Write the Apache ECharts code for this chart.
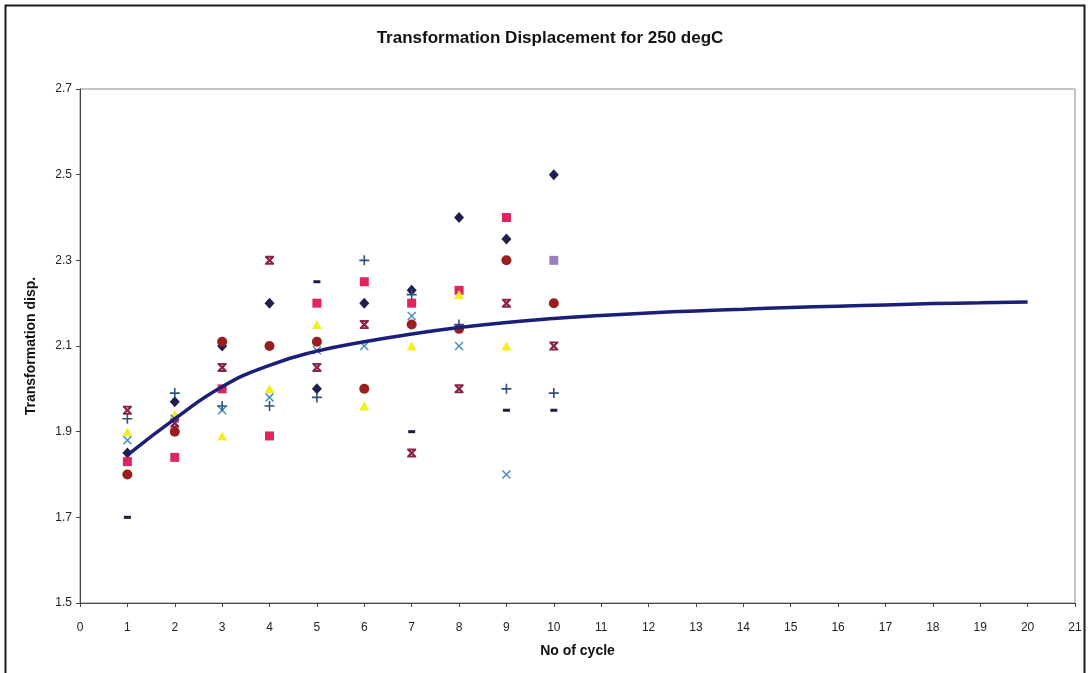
<!DOCTYPE html>
<html>
<head>
<meta charset="utf-8">
<title>Transformation Displacement for 250 degC</title>
<script src="https://cdn.jsdelivr.net/npm/echarts@6/dist/echarts.min.js"></script>
<style>
  html, body { margin: 0; padding: 0; background: #ffffff; }
  #chart { width: 1089px; height: 673px; }
</style>
</head>
<body>
<div id="chart"></div>
<script>
// Cycle numbers for the measured specimens
const cycles = [1, 2, 3, 4, 5, 6, 7, 8, 9, 10];

// Measured transformation displacement per specimen (null = no reading)
const diamondVals  = [1.85, 1.97, 2.10, 2.20, 2.00, 2.20, 2.23, 2.40, 2.35, 2.50];
const squareVals   = [1.83, 1.84, 2.00, 1.89, 2.20, 2.25, 2.20, 2.23, 2.40, null];
const triangleVals = [1.90, 1.94, 1.89, 2.00, 2.15, 1.96, 2.10, 2.22, 2.10, null];
const crossVals    = [1.88, 1.93, 1.95, 1.98, 2.09, 2.10, 2.17, 2.10, 1.80, null];
const starVals     = [1.95, 1.92, 2.05, 2.30, 2.05, 2.15, 1.85, 2.00, 2.20, 2.10];
const circleVals   = [1.80, 1.90, 2.11, 2.10, 2.11, 2.00, 2.15, 2.14, 2.30, 2.20];
const plusVals     = [1.93, 1.99, 1.96, 1.96, 1.98, 2.30, 2.22, 2.15, 2.00, 1.99];
const dashVals     = [1.70, null, null, null, 2.25, null, 1.90, null, 1.95, 1.95];
const lastSquareVals = [null, null, null, null, null, null, null, null, null, 2.30];

// Fitted trend curve
const trendCycles = [1, 2, 3, 4, 5, 6, 7, 8, 9, 10, 11, 12, 13, 14, 15, 16, 17, 18, 19, 20];
const trendVals = [1.845, 1.93, 2.005, 2.055, 2.088, 2.11, 2.128, 2.143, 2.155, 2.164,
                   2.171, 2.177, 2.182, 2.186, 2.190, 2.193, 2.196, 2.199, 2.201, 2.203];

// Axis tick labels
const yTickLabels = ['1.5', '1.7', '1.9', '2.1', '2.3', '2.5', '2.7'];

const pairs = (xs, ys) => xs.map((x, i) => [x, ys[i]]).filter(p => p[1] !== null);

// Marker outlines (Excel style)
const X_PATH = 'path://M0,1.2L1.2,0L5,3.8L8.8,0L10,1.2L6.2,5L10,8.8L8.8,10L5,6.2L1.2,10L0,8.8L3.8,5Z';
const STAR_PATH = 'path://M0,0L10,0L10,2L0,2Z M0,8L10,8L10,10L0,10Z ' +
                  'M0,1.8L1.8,0L5,3.2L8.2,0L10,1.8L6.8,5L10,8.2L8.2,10L5,6.8L1.8,10L0,8.2L3.2,5Z';
const PLUS_PATH = 'path://M4.2,0L5.8,0L5.8,4.2L10,4.2L10,5.8L5.8,5.8L5.8,10L4.2,10L4.2,5.8L0,5.8L0,4.2L4.2,4.2Z';
const DASH_PATH = 'path://M0,0L10,0L10,10L0,10Z';

const FONT = 'Liberation Sans, Arial, sans-serif';

function scatter(name, vals, symbol, size, color) {
  return {
    name, type: 'scatter', yAxisIndex: 0,
    symbol, symbolSize: size,
    itemStyle: { color, opacity: 1 },
    data: pairs(cycles, vals),
    z: 3
  };
}

const chart = echarts.init(document.getElementById('chart'), null, { renderer: 'canvas' });

chart.setOption({
  animation: false,
  backgroundColor: '#ffffff',
  title: {
    text: 'Transformation Displacement for 250 degC',
    left: 545, top: 25, textAlign: 'center',
    textStyle: { fontFamily: FONT, fontSize: 17, fontWeight: 'bold', color: '#111' }
  },
  graphic: [{
    type: 'rect', silent: true, z: 0,
    shape: { x: 5.5, y: 5.5, width: 1079, height: 680 },
    style: { fill: 'none', stroke: '#1a1a1a', lineWidth: 2 }
  }],
  grid: {
    left: 80, right: 14, top: 89, bottom: 70,
    show: true, borderColor: '#8a8a8a', borderWidth: 1, backgroundColor: 'transparent'
  },
  xAxis: {
    type: 'value', min: 0, max: 21, interval: 1,
    name: 'No of cycle', nameLocation: 'middle', nameGap: 41,
    nameTextStyle: { fontFamily: FONT, fontSize: 14, fontWeight: 'bold', color: '#111' },
    axisLine: { show: true, onZero: false, lineStyle: { color: '#444', width: 1 } },
    axisTick: { show: true, inside: false, length: 4, lineStyle: { color: '#444' } },
    axisLabel: { fontFamily: FONT, fontSize: 12, color: '#222', margin: 19 },
    splitLine: { show: false }
  },
  yAxis: [{
    // value scale used by the data
    type: 'value', min: 1.5, max: 2.7, position: 'left',
    axisLine: { show: true, onZero: false, lineStyle: { color: '#444', width: 1 } },
    axisTick: { show: false }, axisLabel: { show: false }, splitLine: { show: false }
  }, {
    // tick marks and labels every 0.2 starting at 1.5
    type: 'value', min: 0, max: 1.2, interval: 0.2, position: 'left',
    name: 'Transformation disp.', nameLocation: 'middle', nameGap: 42, nameRotate: 90,
    nameTextStyle: { fontFamily: FONT, fontSize: 14, fontWeight: 'bold', color: '#111' },
    axisLine: { show: false },
    axisTick: { show: true, inside: false, length: 4, lineStyle: { color: '#444' } },
    axisLabel: {
      fontFamily: FONT, fontSize: 12, color: '#222', margin: 8,
      formatter: (v, i) => yTickLabels[i]
    },
    splitLine: { show: false }
  }],
  series: [
    scatter('Series1', diamondVals, 'diamond', [10, 11], '#1f1f4f'),
    scatter('Series2', squareVals, 'rect', 9, '#e0245c'),
    scatter('Series3', triangleVals, 'triangle', [10, 9], '#f2ee22'),
    scatter('Series4', crossVals, X_PATH, 9, '#4a8cc4'),
    scatter('Series5', starVals, STAR_PATH, 9, '#8a2446'),
    scatter('Series6', circleVals, 'circle', 10, '#9a1e1e'),
    scatter('Series7', plusVals, PLUS_PATH, 10, '#2f4f7f'),
    scatter('Series8', dashVals, DASH_PATH, [7, 3], '#1c1c3c'),
    scatter('Series9', lastSquareVals, 'rect', 9, '#9c80bc'),
    {
      name: 'Trend', type: 'line', yAxisIndex: 0,
      data: pairs(trendCycles, trendVals),
      smooth: true, showSymbol: false, symbol: 'none',
      lineStyle: { color: '#1b1f78', width: 3.5 },
      z: 4
    }
  ]
});
</script>
</body>
</html>
